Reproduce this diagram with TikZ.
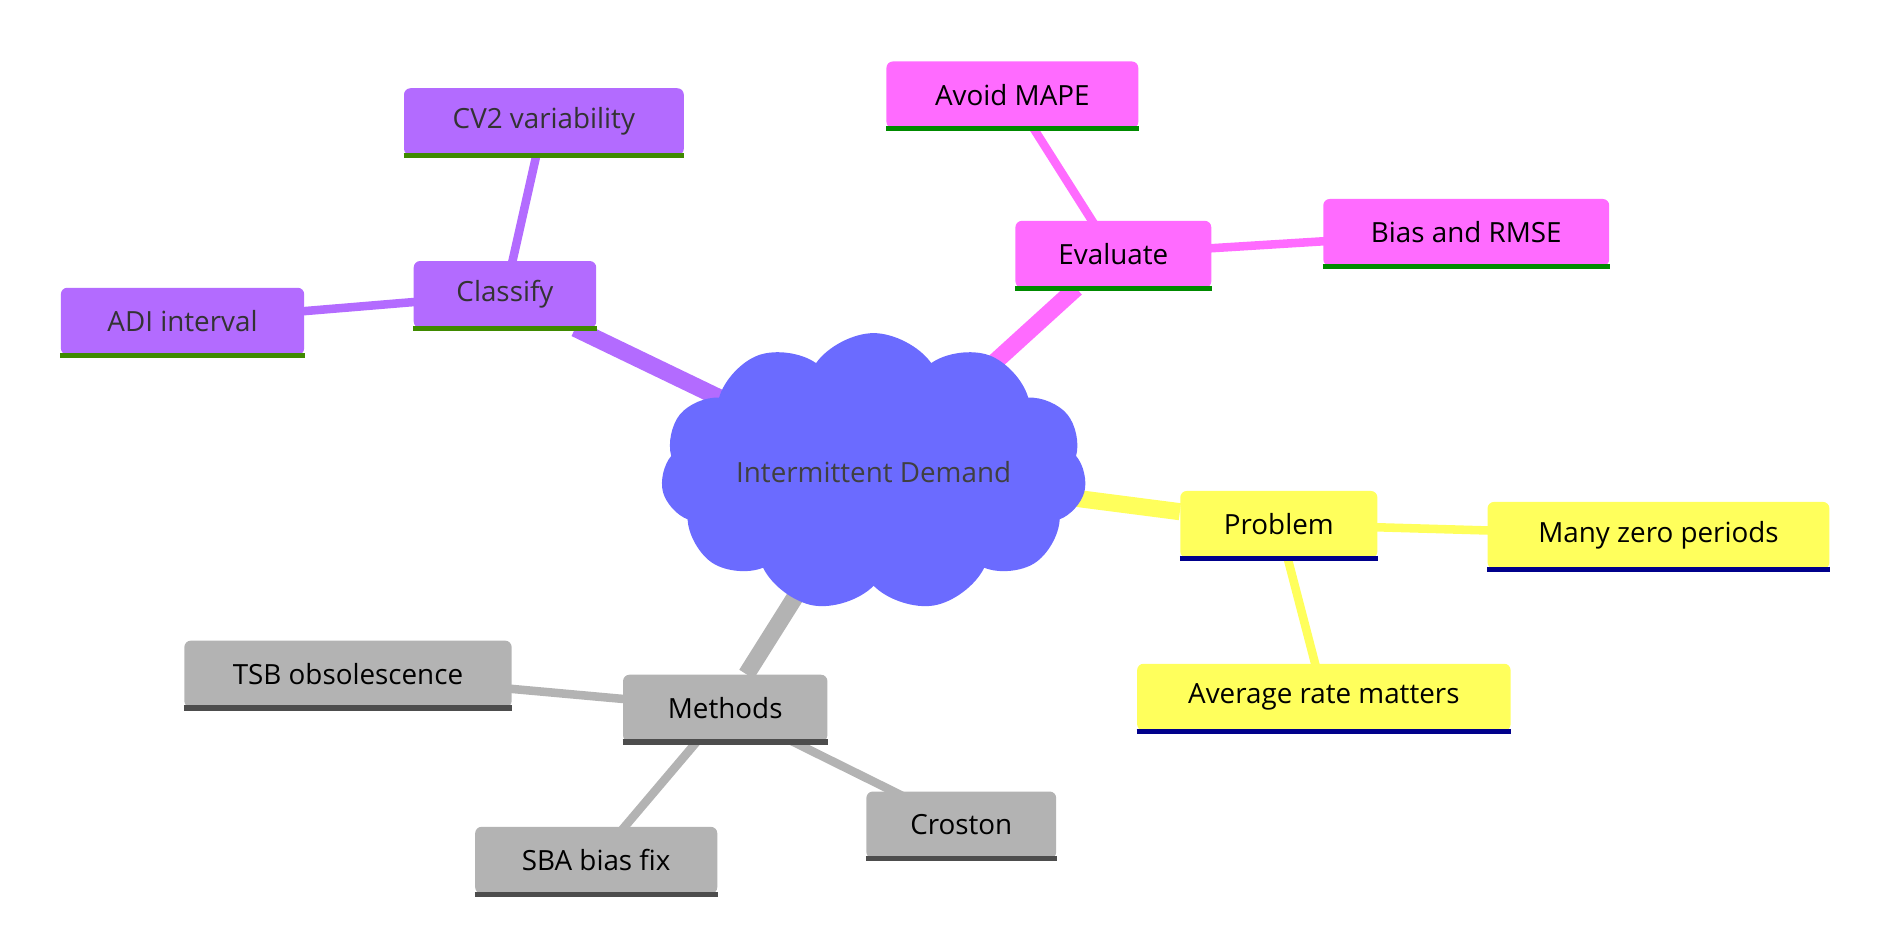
\documentclass[tikz,border=0pt]{standalone}
\usepackage{fontspec}
\setmainfont{Open Sans}
\usetikzlibrary{shapes.symbols,backgrounds}
\definecolor{cpur}{HTML}{B36BFF}
\definecolor{cmag}{HTML}{FF6BFF}
\definecolor{cyel}{HTML}{FFFF5C}
\definecolor{cgry}{HTML}{B3B3B3}
\definecolor{ccld}{HTML}{6B6BFF}
\definecolor{lpur}{HTML}{3F8A00}
\definecolor{lmag}{HTML}{008A00}
\definecolor{lyel}{HTML}{00008B}
\definecolor{lgry}{HTML}{4D4D4D}
\tikzset{x=0.02cm,y=-0.02cm,
 box/.style={rounded corners=3pt,minimum height=1.1cm,inner sep=0pt,font=\fontsize{13}{15}\selectfont},
 pur/.style={box,fill=cpur,text=black!80},
 mag/.style={box,fill=cmag},
 yel/.style={box,fill=cyel},
 gry/.style={box,fill=cgry},
 main/.style={line width=8pt},
 sub/.style={line width=4pt},
 ul/.style={line width=2.4pt}}
\begin{document}
\begin{tikzpicture}
\useasboundingbox (0,0) rectangle (1550,782);
\node[cloud,cloud puffs=11,cloud puff arc=110,aspect=1.8,fill=ccld,minimum width=6.3cm,minimum height=3.5cm,font=\fontsize{13}{15}\selectfont,text=black!75] (c) at (718,388) {Intermittent Demand};
\node[pur,minimum width=3.0cm] (cl) at (415,242) {Classify};
\node[pur,minimum width=4.6cm] (cv) at (447,100) {CV2 variability};
\node[pur,minimum width=4.0cm] (adi) at (150,264) {ADI interval};
\node[mag,minimum width=3.22cm] (ev) at (915,209) {Evaluate};
\node[mag,minimum width=4.14cm] (am) at (832,78) {Avoid MAPE};
\node[mag,minimum width=4.7cm] (br) at (1205,191) {Bias and RMSE};
\node[yel,minimum width=3.24cm] (pr) at (1051,431) {Problem};
\node[yel,minimum width=5.62cm] (mz) at (1363,440) {Many zero periods};
\node[yel,minimum width=6.14cm] (ar) at (1088,573) {Average rate matters};
\node[gry,minimum width=3.36cm] (me) at (596,582) {Methods};
\node[gry,minimum width=5.38cm] (tsb) at (286,554) {TSB obsolescence};
\node[gry,minimum width=3.98cm] (sba) at (490,707) {SBA bias fix};
\node[gry,minimum width=3.12cm] (cr) at (790,678) {Croston};
\begin{scope}[on background layer]
\draw[main,cpur] (c.center) -- (cl);
\draw[main,cmag] (c.center) -- (ev);
\draw[main,cyel] (c.center) -- (pr);
\draw[main,cgry] (c.center) -- (me);
\draw[sub,cpur] (cl.center) -- (cv.center);
\draw[sub,cpur] (cl.center) -- (adi.center);
\draw[sub,cmag] (ev.center) -- (am.center);
\draw[sub,cmag] (ev.center) -- (br.center);
\draw[sub,cyel] (pr.center) -- (mz.center);
\draw[sub,cyel] (pr.center) -- (ar.center);
\draw[sub,cgry] (me.center) -- (tsb.center);
\draw[sub,cgry] (me.center) -- (sba.center);
\draw[sub,cgry] (me.center) -- (cr.center);
\end{scope}
\foreach \n/\c in {cl/lpur,cv/lpur,adi/lpur,ev/lmag,am/lmag,br/lmag,pr/lyel,mz/lyel,ar/lyel,me/lgry,tsb/lgry,sba/lgry,cr/lgry}
 \draw[ul,\c] (\n.south west) -- (\n.south east);
\end{tikzpicture}
\end{document}
